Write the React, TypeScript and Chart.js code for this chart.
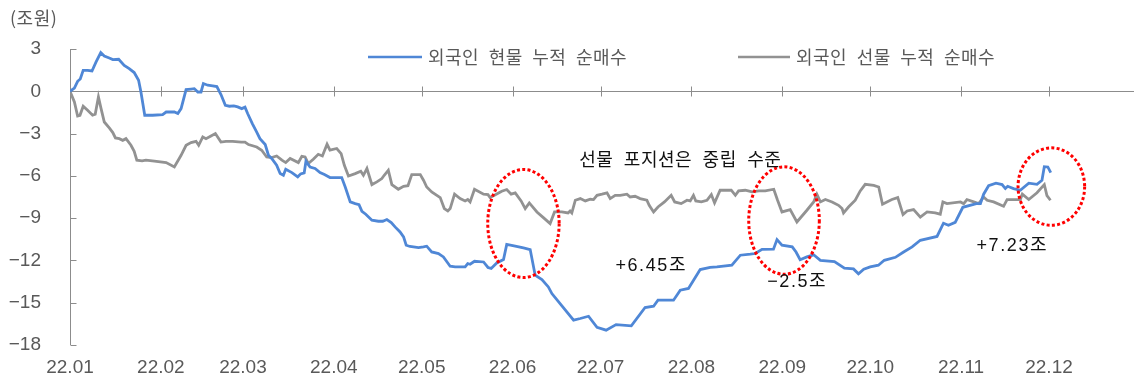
import { useEffect, useRef } from "react";
import { Chart, registerables } from "chart.js";

Chart.register(...registerables);

// x axis: day of year 2022 (0 = Jan 1); ticks at the first day of each month
const monthStarts = [0, 31, 59, 90, 120, 151, 181, 212, 243, 273, 304, 334];
const monthLabels = ["22.01", "22.02", "22.03", "22.04", "22.05", "22.06", "22.07", "22.08", "22.09", "22.10", "22.11", "22.12"];
const yTicks = [3, 0, -3, -6, -9, -12, -15, -18];

const seriesNames = ["외국인 현물 누적 순매수", "외국인 선물 누적 순매수"];
const unitLabel = "(조원)";

// Foreign investors' cumulative net buying of spot (KRW trillion)
const spotDays = [0, 1.5, 2.6, 3.5, 4.5, 6.0, 7.5, 8.9, 10.5, 11.7, 13.4, 14.6, 16.6, 18.5, 20.2, 21.9, 23.4, 24.2, 25.5, 28.2, 31.6, 32.8, 35.6, 36.8, 37.9, 39.6, 41.3, 42.4, 43.6, 44.7, 45.5, 47.0, 48.7, 50.1, 51.5, 53.0, 54.4, 55.9, 57.2, 58.6, 59.7, 60.6, 62.2, 63.7, 64.8, 66.6, 67.7, 68.8, 70.5, 71.7, 72.8, 73.6, 75.7, 77.7, 78.7, 79.9, 80.5, 81.9, 83.6, 85.3, 86.8, 88.7, 92.7, 93.9, 95.6, 97.3, 98.6, 99.6, 100.9, 103.0, 105.2, 106.7, 108.1, 109.6, 110.9, 112.6, 113.8, 114.7, 116.0, 118.9, 120.6, 121.7, 123.4, 125.7, 127.4, 129.7, 131.4, 134.8, 135.7, 136.5, 138.0, 141.1, 142.6, 143.7, 145.6, 147.9, 149.0, 151.9, 154.7, 157.0, 158.7, 161.0, 163.2, 164.4, 167.2, 171.8, 174.1, 176.9, 179.8, 182.9, 186.3, 191.5, 196.2, 199.1, 200.6, 205.9, 208.2, 211.0, 215.0, 218.4, 220.7, 225.8, 228.7, 232.1, 233.8, 236.1, 240.0, 241.2, 242.9, 246.4, 247.7, 249.1, 251.4, 253.7, 256.0, 260.8, 264.2, 267.3, 269.0, 270.8, 273.0, 275.8, 277.8, 281.6, 284.4, 287.3, 290.1, 295.8, 298.0, 299.7, 302.0, 304.6, 309.2, 310.6, 311.7, 313.4, 315.9, 318.0, 319.1, 319.9, 321.9, 324.2, 327.1, 329.9, 331.6, 332.4, 333.6, 334.6];
const spotValues = [0, 0.23, 0.71, 0.87, 1.49, 1.49, 1.44, 2.08, 2.74, 2.50, 2.36, 2.25, 2.27, 1.84, 1.61, 1.33, 0.78, -0.05, -1.70, -1.70, -1.65, -1.47, -1.47, -1.58, -1.23, 0.12, 0.16, 0.19, -0.05, -0.05, 0.55, 0.43, 0.38, 0.33, -0.23, -0.99, -1.06, -1.04, -1.11, -1.23, -1.13, -1.58, -2.29, -2.89, -3.36, -3.78, -4.54, -4.77, -5.25, -5.84, -5.96, -5.53, -5.77, -6.07, -5.86, -5.79, -4.96, -5.37, -5.48, -5.77, -5.91, -6.12, -6.12, -6.79, -7.85, -7.97, -8.04, -8.51, -8.72, -9.15, -9.22, -9.22, -9.10, -9.31, -9.62, -9.98, -10.33, -10.92, -11.01, -11.09, -11.04, -10.99, -11.40, -11.51, -11.75, -12.41, -12.46, -12.46, -12.22, -12.27, -12.06, -12.11, -12.50, -12.57, -12.18, -11.94, -10.87, -10.99, -11.11, -11.23, -13.05, -13.36, -13.88, -14.35, -15.06, -16.24, -16.12, -15.96, -16.75, -16.95, -16.55, -16.64, -15.34, -15.25, -14.82, -14.82, -14.11, -13.99, -12.65, -12.50, -12.46, -12.34, -11.63, -11.56, -11.51, -11.21, -11.20, -10.52, -10.92, -11.04, -11.40, -11.95, -11.75, -11.60, -12.00, -12.08, -12.55, -12.60, -12.95, -12.63, -12.46, -12.34, -11.99, -11.78, -11.40, -11.04, -10.57, -10.30, -9.36, -9.50, -9.30, -8.23, -7.97, -7.97, -7.30, -6.70, -6.52, -6.62, -6.90, -6.74, -6.90, -7.02, -6.52, -6.60, -6.31, -5.35, -5.37, -5.77];

// Foreign investors' cumulative net buying of futures (KRW trillion)
const futDays = [0, 1.5, 2.6, 3.4, 4.5, 6.0, 7.7, 8.6, 9.7, 10.6, 11.7, 13.4, 14.6, 15.5, 16.8, 18.0, 19.1, 20.8, 21.9, 22.8, 24.6, 25.9, 28.8, 32.8, 35.6, 37.9, 39.6, 41.3, 43.0, 43.9, 45.3, 46.4, 48.1, 49.6, 51.5, 53.2, 55.5, 58.4, 59.7, 60.9, 63.7, 65.4, 67.1, 68.8, 70.5, 72.3, 73.6, 75.1, 77.9, 79.1, 80.2, 81.3, 83.0, 84.7, 86.1, 87.7, 88.7, 91.0, 92.5, 93.6, 95.0, 97.3, 99.2, 100.1, 101.3, 103.0, 104.7, 106.4, 107.2, 108.6, 109.8, 112.0, 113.8, 115.3, 116.6, 119.5, 120.6, 121.7, 123.4, 126.3, 127.7, 128.9, 129.7, 131.2, 133.1, 134.8, 135.7, 136.5, 138.0, 141.1, 142.6, 143.3, 144.8, 147.3, 149.0, 150.5, 151.9, 153.9, 155.3, 156.7, 159.3, 161.5, 163.8, 165.3, 167.8, 169.9, 170.6, 171.2, 172.4, 174.1, 175.8, 177.5, 178.6, 179.8, 181.5, 183.2, 184.3, 186.0, 187.7, 190.0, 191.1, 192.8, 194.5, 196.8, 197.6, 199.1, 200.6, 202.8, 205.1, 206.3, 208.5, 210.5, 211.6, 212.7, 213.5, 215.4, 217.3, 218.8, 219.9, 221.8, 225.6, 227.0, 228.1, 230.4, 232.7, 235.0, 237.2, 240.1, 241.4, 242.9, 245.7, 248.0, 251.4, 253.7, 254.8, 256.0, 257.7, 260.0, 262.2, 263.4, 263.9, 265.6, 267.9, 269.6, 271.3, 274.2, 275.9, 277.2, 278.7, 280.4, 282.4, 284.2, 285.6, 287.8, 290.1, 292.4, 295.2, 296.9, 297.8, 299.2, 303.8, 304.9, 306.0, 308.3, 310.0, 311.7, 312.9, 315.1, 318.5, 319.7, 324.2, 324.9, 327.1, 329.9, 332.4, 333.3, 334.5];
const futValues = [0, -0.76, -1.75, -1.70, -1.06, -1.35, -1.70, -1.63, -0.40, -1.23, -2.18, -2.60, -2.93, -3.31, -3.36, -3.48, -3.36, -3.83, -4.26, -4.89, -4.94, -4.89, -4.96, -5.06, -5.37, -4.54, -3.83, -3.64, -3.55, -3.83, -3.24, -3.36, -3.17, -3.00, -3.60, -3.55, -3.55, -3.60, -3.60, -3.78, -3.95, -4.18, -4.66, -4.70, -4.59, -4.89, -5.06, -4.77, -5.06, -4.61, -4.66, -5.13, -4.82, -4.47, -4.59, -3.76, -4.18, -4.06, -4.42, -5.25, -6.01, -5.84, -5.67, -5.96, -5.48, -6.62, -6.43, -6.19, -5.96, -5.60, -6.62, -6.95, -6.74, -6.70, -5.91, -5.91, -6.31, -6.79, -7.14, -7.54, -8.32, -8.49, -8.32, -7.30, -7.61, -7.78, -7.68, -7.85, -6.95, -7.30, -7.33, -7.54, -7.38, -7.09, -6.97, -7.30, -7.21, -7.78, -8.32, -7.92, -8.56, -8.96, -9.38, -8.56, -8.56, -8.63, -8.49, -8.63, -7.73, -7.61, -7.78, -7.66, -7.68, -7.38, -7.30, -7.21, -7.61, -7.38, -7.38, -7.30, -7.50, -7.45, -7.61, -7.73, -8.09, -8.56, -8.21, -7.85, -7.38, -7.85, -7.97, -7.73, -7.78, -7.38, -7.78, -7.85, -7.73, -7.33, -7.92, -7.02, -7.02, -7.38, -7.07, -7.02, -7.14, -7.07, -7.07, -6.95, -7.73, -8.56, -8.39, -9.27, -8.44, -7.85, -7.30, -7.85, -7.68, -7.85, -8.09, -8.32, -8.63, -8.21, -7.73, -7.07, -6.60, -6.67, -6.79, -8.01, -7.85, -7.68, -7.54, -8.75, -8.49, -8.39, -8.93, -8.56, -8.63, -8.72, -7.85, -7.97, -7.85, -7.97, -7.68, -7.85, -7.97, -7.50, -7.73, -7.85, -8.16, -7.68, -7.68, -7.30, -7.68, -7.20, -6.62, -7.40, -7.73];

const BLUE = "#4f87d6";
const GRAY = "#929292";
const AXIS = "#8c8c8c";
const LABEL = "#595959";
const LATIN = '"Liberation Sans", "Noto Sans CJK KR", sans-serif';
const HANGUL = '"Noto Sans CJK KR", "Liberation Sans", sans-serif';

// Callouts, anchored at (day, value)
const notes = [
  { text: "선물 포지션은 중립 수준", day: 208.2, value: -4.82 },
  { text: "+6.45조", day: 198.3, value: -12.41 },
  { text: "\u22122.5조", day: 248.1, value: -13.55 },
  { text: "+7.23조", day: 321.5, value: -10.99 },
];

// Red dotted rings: centre at (day, value), radii in pixels
const rings = [
  { day: 154.7, value: -9.38, rx: 35.7, ry: 54 },
  { day: 243.6, value: -9.17, rx: 35.3, ry: 53.7 },
  { day: 334.8, value: -6.76, rx: 33.3, ry: 38.7 },
];

function drawWords(ctx: CanvasRenderingContext2D, text: string, x: number, y: number, gap: number) {
  let cx = x;
  for (const w of text.split(" ")) {
    ctx.fillText(w, cx, y);
    cx += ctx.measureText(w).width + gap;
  }
  return cx - gap - x;
}

function wordsWidth(ctx: CanvasRenderingContext2D, text: string, gap: number) {
  const words = text.split(" ");
  return words.reduce((s, w) => s + ctx.measureText(w).width, 0) + gap * (words.length - 1);
}

const decorPlugin = {
  id: "decor",
  beforeDatasetsDraw(chart: any) {
    const { ctx, chartArea: a, scales } = chart;
    const x = scales.x;
    const y = scales.y;
    ctx.save();
    ctx.strokeStyle = AXIS;
    ctx.lineWidth = 1;
    ctx.beginPath();
    const lx = Math.round(a.left) + 0.5;
    ctx.moveTo(lx, a.top);
    ctx.lineTo(lx, a.bottom);
    yTicks.forEach((v) => {
      const py = Math.round(y.getPixelForValue(v)) + 0.5;
      ctx.moveTo(lx, py);
      ctx.lineTo(lx + 6, py);
    });
    const zy = Math.round(y.getPixelForValue(0)) + 0.5;
    ctx.moveTo(a.left, zy);
    ctx.lineTo(a.right, zy);
    monthStarts.slice(1).forEach((d) => {
      const px = Math.round(x.getPixelForValue(d)) + 0.5;
      ctx.moveTo(px, zy - 5);
      ctx.lineTo(px, zy + 5);
    });
    ctx.stroke();
    ctx.restore();
  },
  afterDatasetsDraw(chart: any) {
    const { ctx, scales } = chart;
    const x = scales.x;
    const y = scales.y;
    ctx.save();

    // dotted rings
    ctx.strokeStyle = "#ff0000";
    ctx.lineWidth = 3;
    ctx.setLineDash([3, 2.3]);
    rings.forEach((r) => {
      ctx.beginPath();
      ctx.ellipse(x.getPixelForValue(r.day), y.getPixelForValue(r.value), r.rx, r.ry, 0, 0, Math.PI * 2);
      ctx.stroke();
    });
    ctx.setLineDash([]);

    // callout texts
    ctx.fillStyle = "#111";
    ctx.textBaseline = "middle";
    ctx.textAlign = "left";
    notes.forEach((n) => {
      const hangulOnly = /^[\uac00-\ud7a3 ]+$/.test(n.text);
      ctx.font = hangulOnly ? `18px ${HANGUL}` : `18px ${LATIN}`;
      (ctx as any).letterSpacing = hangulOnly ? "0.5px" : "1.6px";
      const gap = 10.5;
      const w = wordsWidth(ctx, n.text, gap);
      drawWords(ctx, n.text, x.getPixelForValue(n.day) - w / 2, y.getPixelForValue(n.value), gap);
    });

    // legend
    (ctx as any).letterSpacing = "0.5px";
    ctx.font = `18px ${HANGUL}`;
    ctx.fillStyle = LABEL;
    const legendY = 57;
    const items = [
      { color: BLUE, x0: 368, x1: 422, tx: 428, text: seriesNames[0] },
      { color: GRAY, x0: 738, x1: 790, tx: 796, text: seriesNames[1] },
    ];
    items.forEach((it) => {
      ctx.strokeStyle = it.color;
      ctx.lineWidth = 2.6;
      ctx.beginPath();
      ctx.moveTo(it.x0, legendY);
      ctx.lineTo(it.x1, legendY);
      ctx.stroke();
      drawWords(ctx, it.text, it.tx, legendY, 9.5);
    });

    // unit label
    ctx.font = `18px ${HANGUL}`;
    drawWords(ctx, unitLabel, 10, 18, 9);
    ctx.restore();
  },
};

export default function App() {
  const canvasRef = useRef<HTMLCanvasElement | null>(null);

  useEffect(() => {
    const canvas = canvasRef.current;
    if (!canvas) return;
    const chart = new Chart(canvas, {
      type: "line",
      data: {
        datasets: [
          {
            label: seriesNames[0],
            data: spotDays.map((d, i) => ({ x: d, y: spotValues[i] })),
            borderColor: BLUE,
            borderWidth: 2.8,
            pointRadius: 0,
            tension: 0,
            fill: false,
          },
          {
            label: seriesNames[1],
            data: futDays.map((d, i) => ({ x: d, y: futValues[i] })),
            borderColor: GRAY,
            borderWidth: 2.8,
            pointRadius: 0,
            tension: 0,
            fill: false,
          },
        ],
      },
      options: {
        responsive: false,
        animation: false,
        devicePixelRatio: 1,
        layout: { padding: { top: 49, right: 2, bottom: 0, left: 0 } },
        plugins: { legend: { display: false }, tooltip: { enabled: false } },
        scales: {
          x: {
            type: "linear",
            min: 0,
            max: 363,
            afterBuildTicks: (s: any) => {
              s.ticks = monthStarts.map((v) => ({ value: v }));
            },
            afterFit: (s: any) => {
              s.height = 34;
            },
            grid: { display: false },
            border: { display: false },
            ticks: {
              autoSkip: false,
              maxRotation: 0,
              padding: 3,
              color: LABEL,
              font: { family: LATIN, size: 19 },
              callback: (_v: any, i: number) => monthLabels[i],
            },
          },
          y: {
            min: -18,
            max: 3,
            afterBuildTicks: (s: any) => {
              s.ticks = yTicks.map((v) => ({ value: v }));
            },
            afterFit: (s: any) => {
              s.width = 70;
            },
            grid: { display: false },
            border: { display: false },
            ticks: {
              padding: 21,
              color: LABEL,
              font: { family: LATIN, size: 19 },
              callback: (v: any) => (v < 0 ? "\u2212" + Math.abs(v) : String(v)),
            },
          },
        },
      },
      plugins: [decorPlugin],
    });
    return () => chart.destroy();
  }, []);

  return (
    <div style={{ position: "absolute", left: 0, top: 0, width: 1136, height: 379, background: "#fff" }}>
      <canvas ref={canvasRef} width={1136} height={379} />
    </div>
  );
}
